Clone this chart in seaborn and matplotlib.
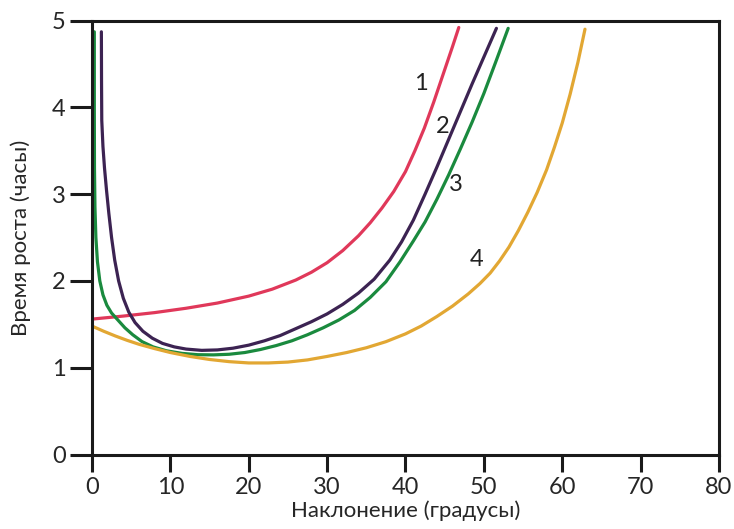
import matplotlib
matplotlib.use('Agg')
from matplotlib import pyplot as plt
import seaborn as sns

# кривые времени роста в зависимости от наклона (читались с картинки)
red_x = [0, 4, 8, 12, 16, 20, 23, 26, 28, 30, 32, 34, 35.5, 37, 38.5, 40, 41.2, 42.4, 43.6,
         44.8, 46, 46.8]
red_y = [1.56, 1.595, 1.635, 1.685, 1.745, 1.825, 1.905, 2.01, 2.10, 2.21, 2.35, 2.52, 2.67,
         2.84, 3.03, 3.26, 3.50, 3.76, 4.06, 4.38, 4.70, 4.92]

purple_x = [1.20, 1.22, 1.25, 1.40, 1.60, 1.85, 2.15, 2.5, 2.9, 3.4, 4.0, 4.7, 5.5, 6.5, 7.7,
            9, 10.5, 12, 14, 16, 18, 20, 22, 24, 26, 28, 30, 32, 34, 36, 38, 39.5, 41, 42.5,
            44, 45.5, 47, 48.5, 50, 51.6]
purple_y = [4.87, 4.30, 3.85, 3.55, 3.30, 3.05, 2.78, 2.50, 2.24, 2.00, 1.80, 1.64, 1.52, 1.42,
            1.34, 1.28, 1.24, 1.215, 1.20, 1.205, 1.225, 1.26, 1.31, 1.37, 1.45, 1.53, 1.62,
            1.73, 1.86, 2.02, 2.24, 2.45, 2.70, 3.00, 3.31, 3.63, 3.95, 4.27, 4.58, 4.91]

green_x = [0.30, 0.30, 0.32, 0.38, 0.5, 0.7, 1.0, 1.4, 1.9, 2.5, 3.3, 4.2, 5.2, 6.4, 7.8, 9.5,
           11.5, 13.5, 15.5, 17.5, 19.5, 21.5, 23.5, 25.5, 27.5, 29.5, 31.5, 33.5, 35.5, 37.5,
           39.3, 41, 42.5, 44, 45.5, 47, 48.5, 50, 51.5, 53.1]
green_y = [4.87, 4.00, 3.30, 2.85, 2.50, 2.22, 2.00, 1.84, 1.72, 1.63, 1.55, 1.46, 1.38, 1.30,
           1.24, 1.195, 1.165, 1.15, 1.148, 1.155, 1.175, 1.21, 1.255, 1.31, 1.38, 1.46, 1.55,
           1.66, 1.81, 1.99, 2.22, 2.46, 2.68, 2.94, 3.22, 3.52, 3.83, 4.16, 4.52, 4.91]

yellow_x = [0, 1.5, 3, 4.5, 6, 8, 10, 12.5, 15, 17.5, 20, 22.5, 25, 27.5, 30, 32.5, 35, 37.5,
            40, 42, 44, 46, 48, 49.5, 50.8, 52, 53.2, 54.4, 55.6, 56.8, 58, 59, 60, 61, 62, 62.9]
yellow_y = [1.48, 1.42, 1.365, 1.315, 1.27, 1.22, 1.175, 1.13, 1.095, 1.07, 1.055, 1.055, 1.065,
            1.09, 1.13, 1.175, 1.23, 1.30, 1.39, 1.48, 1.59, 1.71, 1.85, 1.97, 2.09, 2.23, 2.39,
            2.58, 2.79, 3.02, 3.28, 3.54, 3.82, 4.15, 4.52, 4.90]

curves = [(red_x, red_y, '#e0385a'), (purple_x, purple_y, '#3c2352'),
          (green_x, green_y, '#1a8a3e'), (yellow_x, yellow_y, '#e2a733')]

labels = ['1', '2', '3', '4']
label_x = [41.9, 44.8, 46.4, 49.1]
label_y = [4.28, 3.78, 3.11, 2.25]

sns.set_theme(style='ticks')
plt.rcParams['font.family'] = ['Lato', 'DejaVu Sans']

fig = plt.figure(figsize=(7.34, 5.29), dpi=100)
ax = fig.add_axes([0.1253, 0.1408, 0.8543, 0.8204])

for xs, ys, c in curves:
    sns.lineplot(x=xs, y=ys, sort=False, estimator=None, color=c, linewidth=2.3, ax=ax)

for t, lx, ly in zip(labels, label_x, label_y):
    ax.text(lx, ly, t, fontsize=17, color='#222222', ha='center', va='center')

ax.set_xlim(0, 80)
ax.set_ylim(0, 5)
ax.set_xticks(range(0, 81, 10))
ax.set_yticks(range(0, 6))
for s in ax.spines.values():
    s.set_linewidth(2.2)
    s.set_color('#1a1a1a')
ax.tick_params(axis='y', length=16, width=2.2, labelsize=17, pad=3, color='#1a1a1a')
ax.tick_params(axis='x', length=12, width=2.2, labelsize=17, pad=4, color='#1a1a1a')
ax.set_xlabel('Наклонение (градусы)', fontsize=16, labelpad=2)
ax.set_ylabel('Время роста (часы)', fontsize=16)
ax.yaxis.set_label_coords(-0.098, 0.5)

fig.savefig('out.png', dpi=100)
